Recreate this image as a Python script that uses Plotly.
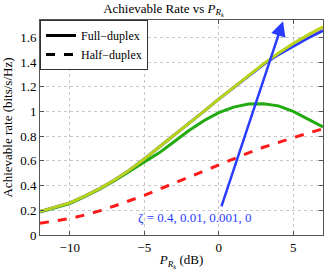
import plotly.graph_objects as go

# --- data ---
x_db = [-12, -11, -10, -9, -8, -7, -6, -5, -4, -3, -2, -1, 0, 1, 2, 3, 4, 5, 6, 7]

fd_zeta_04 = [0.185, 0.22, 0.255, 0.31, 0.37, 0.44, 0.515, 0.585, 0.665, 0.755, 0.845, 0.925,
              0.99, 1.035, 1.06, 1.063, 1.045, 1.0, 0.94, 0.875]
fd_zeta_001 = [0.19, 0.225, 0.26, 0.315, 0.375, 0.445, 0.525, 0.615, 0.71, 0.805, 0.905, 1.0,
               1.10, 1.195, 1.29, 1.38, 1.46, 1.53, 1.595, 1.655]
fd_zeta_0001 = [0.19, 0.225, 0.26, 0.315, 0.375, 0.445, 0.525, 0.615, 0.71, 0.805, 0.905, 1.0,
                1.10, 1.195, 1.29, 1.383, 1.467, 1.545, 1.612, 1.675]
fd_zeta_0 = [0.19, 0.225, 0.26, 0.315, 0.375, 0.445, 0.525, 0.615, 0.71, 0.805, 0.905, 1.0,
             1.10, 1.195, 1.29, 1.385, 1.47, 1.55, 1.62, 1.685]
half_duplex = [0.095, 0.113, 0.133, 0.162, 0.195, 0.235, 0.275, 0.32, 0.37, 0.42, 0.47, 0.52,
               0.565, 0.615, 0.665, 0.71, 0.75, 0.79, 0.825, 0.86]

x_ticks = [-10, -5, 0, 5]
y_ticks = [0, 0.2, 0.4, 0.6, 0.8, 1, 1.2, 1.4, 1.6]
y_tick_text = ["0", "0.2", "0.4", "0.6", "0.8", "1", "1.2", "1.4", "1.6"]

arrow_start = (0.15, 0.22)
arrow_end = (4.32, 1.73)
zeta_label = "ζ = 0.4, 0.01, 0.001, 0"
zeta_label_pos = (-1.65, 0.14)

FONT = "Liberation Serif, Times New Roman, serif"

fig = go.Figure()

fig.add_trace(go.Scatter(x=x_db, y=half_duplex, mode="lines",
                         line=dict(color="#ff1a1a", width=3, dash="dash"), showlegend=False))
fig.add_trace(go.Scatter(x=x_db, y=fd_zeta_04, mode="lines",
                         line=dict(color="#22aa11", width=3), showlegend=False))
fig.add_trace(go.Scatter(x=x_db, y=fd_zeta_001, mode="lines",
                         line=dict(color="#2a3cff", width=3), showlegend=False))
fig.add_trace(go.Scatter(x=x_db, y=fd_zeta_0001, mode="lines",
                         line=dict(color="#f08a8a", width=1.5), showlegend=False))
fig.add_trace(go.Scatter(x=x_db, y=fd_zeta_0, mode="lines",
                         line=dict(color="#b8d414", width=3), showlegend=False))

# legend entries
fig.add_trace(go.Scatter(x=[None], y=[None], mode="lines", name="Full\u2212duplex",
                         line=dict(color="black", width=3)))
fig.add_trace(go.Scatter(x=[None], y=[None], mode="lines", name="Half\u2212duplex",
                         line=dict(color="black", width=3, dash="dash")))

fig.add_annotation(x=arrow_end[0], y=arrow_end[1], ax=arrow_start[0], ay=arrow_start[1],
                   xref="x", yref="y", axref="x", ayref="y", text="", showarrow=True,
                   arrowhead=2, arrowsize=1.2, arrowwidth=2.5, arrowcolor="#2a3cff")
fig.add_annotation(x=zeta_label_pos[0], y=zeta_label_pos[1], xref="x", yref="y",
                   text=zeta_label, showarrow=False,
                   font=dict(family=FONT, size=13, color="#2a3cff"))

axis_common = dict(showline=True, linecolor="#555555", linewidth=1, mirror="allticks",
                   ticks="inside", ticklen=4, tickcolor="#555555",
                   showgrid=True, gridcolor="#c8c8c8", griddash="dot", gridwidth=1,
                   zeroline=False, tickfont=dict(family=FONT, size=13, color="black"))

fig.update_xaxes(range=[-12, 7], tickvals=x_ticks,
                 ticktext=["\u221210", "\u22125", "0", "5"],
                 title=dict(text="<i>P</i><sub><i>R<sub>k</sub></i></sub> (dB)",
                            font=dict(family=FONT, size=13, color="black"), standoff=2),
                 **axis_common)
fig.update_yaxes(range=[0, 1.74], tickvals=y_ticks, ticktext=y_tick_text,
                 title=dict(text="Achievable rate (bits/s/Hz)",
                            font=dict(family=FONT, size=13, color="black"), standoff=4),
                 **axis_common)

fig.update_layout(
    width=327, height=270,
    margin=dict(l=40, r=4, t=20, b=35, autoexpand=False),
    plot_bgcolor="white", paper_bgcolor="white",
    title=dict(text="Achievable Rate vs <i>P</i><sub><i>R<sub>k</sub></i></sub>",
               x=0.5, xanchor="center", y=0.97, yanchor="middle", yref="container",
               font=dict(family=FONT, size=13, color="black")),
    legend=dict(x=0, y=1, xanchor="left", yanchor="top", bgcolor="white",
                bordercolor="#333333", borderwidth=1, itemwidth=30,
                font=dict(family=FONT, size=12, color="black"),
                tracegroupgap=0),
    showlegend=True,
)

fig.write_html("out.html", config={"displayModeBar": False},
               post_script="document.body.style.margin='0px';")
